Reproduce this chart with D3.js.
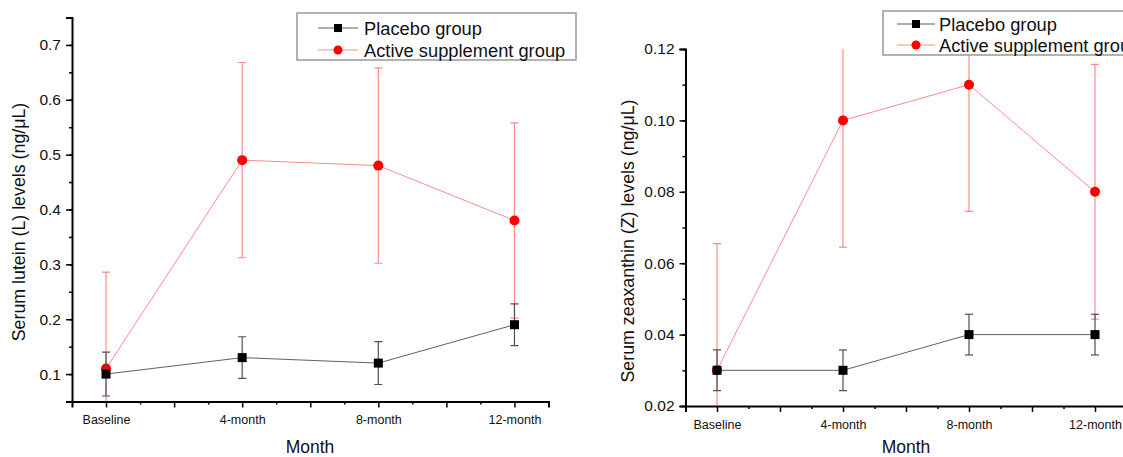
<!DOCTYPE html>
<html><head><meta charset="utf-8">
<script src="https://cdn.jsdelivr.net/npm/d3@7"></script>
<style>body{margin:0;background:#fff}svg{display:block;font-family:"Liberation Sans",Arial,sans-serif}</style>
</head><body><svg id="c" width="1123" height="457"></svg>
<script>
const categories = ["Baseline","4-month","8-month","12-month"];
const seriesNames = ["Placebo group","Active supplement group"];
// Lutein (left)
const luteinPlacebo = [0.10,0.13,0.12,0.19];
const luteinPlaceboErr = [0.040,0.038,0.039,0.038];
const luteinActive = [0.11,0.49,0.48,0.38];
const luteinActiveErr = [0.176,0.178,0.178,0.178];
const luteinTicks = [0.1,0.2,0.3,0.4,0.5,0.6,0.7];
// Zeaxanthin (right)
const zeaPlacebo = [0.03,0.03,0.04,0.04];
const zeaPlaceboErr = [0.0057,0.0057,0.0057,0.0057];
const zeaActive = [0.03,0.10,0.11,0.08];
const zeaActiveErr = [0.0355,0.0355,0.0355,0.0357];
const zeaTicks = [0.02,0.04,0.06,0.08,0.10,0.12];

const svg = d3.select("#c");
const RED = "#ff0000", REDL = "#ff8a8a", GRAY = "#606060";

function panel(cfg){
  const g = svg.append("g");
  const x = d3.scaleLinear().domain([0.75,4.25]).range(cfg.xr);
  const y = d3.scaleLinear().domain(cfg.yd).range(cfg.yr);
  const clipId = "clip"+cfg.id;
  svg.append("clipPath").attr("id",clipId).append("rect")
    .attr("x",cfg.xr[0]).attr("y",cfg.yr[1]).attr("width",cfg.xr[1]-cfg.xr[0]).attr("height",cfg.yr[0]-cfg.yr[1]);
  const pos = categories.map((c,i)=>i+1);
  const plot = g.append("g").attr("clip-path",`url(#${clipId})`);
  function drawSeries(vals, errs, lineCol, errCol, kind){
    plot.append("path").datum(vals)
      .attr("d", d3.line().x((d,i)=>x(pos[i])).y(d=>y(d)))
      .attr("fill","none").attr("stroke",lineCol).attr("stroke-width",1);
    vals.forEach((v,i)=>{
      const cx = x(pos[i]);
      plot.append("line").attr("x1",cx).attr("x2",cx).attr("y1",y(v-errs[i])).attr("y2",y(v+errs[i]))
        .attr("stroke",errCol).attr("stroke-width",1.2);
      [v-errs[i], v+errs[i]].forEach(e=>{
        plot.append("line").attr("x1",cx-4).attr("x2",cx+4).attr("y1",y(e)).attr("y2",y(e))
          .attr("stroke",errCol).attr("stroke-width",1.2);
      });
    });
    vals.forEach((v,i)=>{
      const cx = x(pos[i]), cy = y(v);
      if(kind==="square") plot.append("rect").attr("x",cx-4.5).attr("y",cy-4.5).attr("width",9).attr("height",9).attr("fill","#000");
      else plot.append("circle").attr("cx",cx).attr("cy",cy).attr("r",5).attr("fill",RED);
    });
  }
  drawSeries(cfg.active, cfg.activeErr, REDL, REDL, "circle");
  drawSeries(cfg.placebo, cfg.placeboErr, GRAY, "#505050", "square");
  // Y axis
  const ya = g.append("g").attr("transform",`translate(${cfg.xr[0]},0)`)
    .call(d3.axisLeft(y).tickValues(cfg.yTicks).tickSize(6).tickPadding(5).tickFormat(cfg.fmt));
  ya.select(".domain").attr("stroke-width",2);
  ya.selectAll(".tick line").attr("stroke-width",1.5);
  ya.selectAll("text").attr("font-size",15.5).attr("fill","#111");
  const minorY = d3.range(cfg.yd[0], cfg.yd[1]+1e-9, cfg.minorStep);
  g.append("g").attr("transform",`translate(${cfg.xr[0]},0)`)
    .call(d3.axisLeft(y).tickValues(minorY).tickSize(3).tickFormat(""))
    .call(s=>s.select(".domain").remove())
    .selectAll("line").attr("stroke-width",1.5);
  // X axis
  const xa = g.append("g").attr("transform",`translate(0,${cfg.yr[0]})`)
    .call(d3.axisBottom(x).tickValues([1,1.5,2,2.5,3,3.5,4]).tickSize(6).tickPadding(8).tickFormat(d=>Number.isInteger(d)?categories[d-1]:""));
  xa.select(".domain").attr("stroke-width",2);
  xa.selectAll(".tick line").attr("stroke-width",1.5);
  xa.selectAll("text").attr("font-size",12.5).attr("fill","#111");
  g.append("g").attr("transform",`translate(0,${cfg.yr[0]})`)
    .call(d3.axisBottom(x).tickValues([1.25,1.75,2.25,2.75,3.25,3.75]).tickSize(3).tickFormat(""))
    .call(s=>s.select(".domain").remove())
    .selectAll("line").attr("stroke-width",1.5);
  // titles
  g.append("text").attr("x",cfg.xTitle[0]).attr("y",cfg.xTitle[1]).attr("text-anchor","middle")
    .attr("font-size",17.5).attr("fill","#111").text("Month");
  g.append("text").attr("transform",`translate(${cfg.yTitle[0]},${cfg.yTitle[1]}) rotate(-90)`).attr("text-anchor","middle")
    .attr("font-size",17.8).attr("fill","#111").text(cfg.yLabel);
  // legend
  const L = cfg.legend;
  const lg = svg.append("g");
  lg.append("rect").attr("x",L.x).attr("y",L.y).attr("width",L.w).attr("height",L.h)
    .attr("fill","#fff").attr("stroke","#999").attr("stroke-width",1.5);
  const rows = [{n:seriesNames[0],c:GRAY,k:"square"},{n:seriesNames[1],c:REDL,k:"circle"}];
  rows.forEach((r,i)=>{
    const cy = L.y + L.r0 + i*L.dy;
    lg.append("line").attr("x1",L.lx0).attr("x2",L.lx1).attr("y1",cy).attr("y2",cy).attr("stroke",r.c).attr("stroke-width",1);
    const mx = (L.lx0+L.lx1)/2;
    if(r.k==="square") lg.append("rect").attr("x",mx-4).attr("y",cy-4).attr("width",8).attr("height",8).attr("fill","#000");
    else lg.append("circle").attr("cx",mx).attr("cy",cy).attr("r",4.5).attr("fill",RED);
    lg.append("text").attr("x",L.tx).attr("y",cy+6.5).attr("font-size",18.3).attr("fill","#111").text(r.n);
  });
}

panel({id:"L", xr:[72,548.5], yd:[0.05,0.75], yr:[401.5,17.5], yTicks:luteinTicks, minorStep:0.05,
  fmt:d3.format(".1f"), placebo:luteinPlacebo, placeboErr:luteinPlaceboErr, active:luteinActive, activeErr:luteinActiveErr,
  xTitle:[310,453], yTitle:[25,222], yLabel:"Serum lutein (L) levels (ng/μL)",
  legend:{x:297,y:13,w:279,h:47,r0:15,dy:22,lx0:318,lx1:358,tx:364}});
panel({id:"R", xr:[685.5,1126.5], yd:[0.02,0.12], yr:[406,49], yTicks:zeaTicks, minorStep:0.01,
  fmt:d3.format(".2f"), placebo:zeaPlacebo, placeboErr:zeaPlaceboErr, active:zeaActive, activeErr:zeaActiveErr,
  xTitle:[906,453], yTitle:[634,241], yLabel:"Serum zeaxanthin (Z) levels (ng/μL)",
  legend:{x:883,y:11,w:260,h:44,r0:13,dy:21,lx0:897,lx1:935,tx:939}});
</script></body></html>
